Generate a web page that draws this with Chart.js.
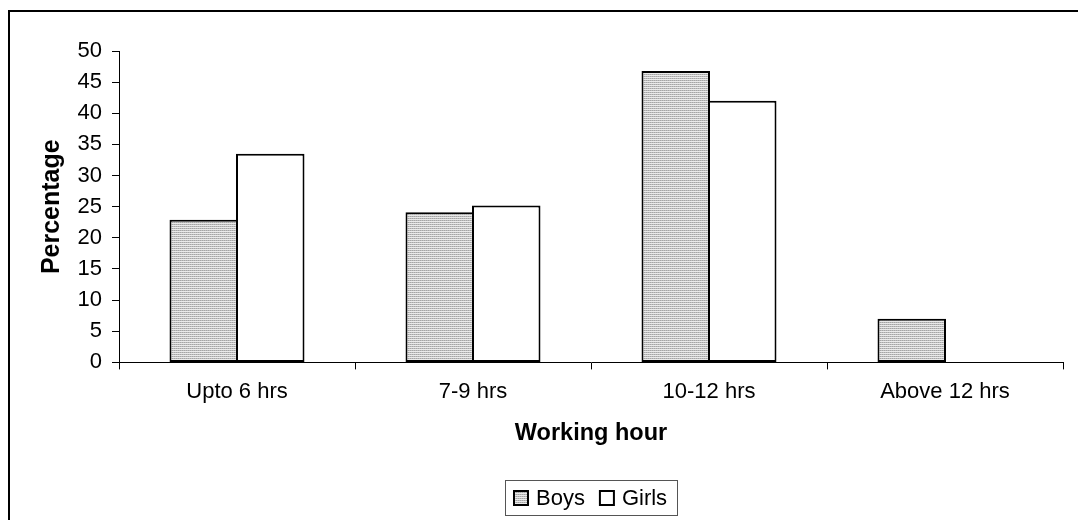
<!DOCTYPE html>
<html>
<head>
<meta charset="utf-8">
<script src="https://cdn.jsdelivr.net/npm/chart.js@4.4.0/dist/chart.umd.min.js"></script>
<style>
  html, body { margin: 0; padding: 0; background: #fff; overflow: hidden; }
  #wrap { width: 1078px; height: 520px; position: relative; }
</style>
</head>
<body>
<div id="wrap"><canvas id="chart" width="1078" height="520"></canvas></div>
<script>
// Share of working children by daily working hours
const categories = ['Upto 6 hrs', '7-9 hrs', '10-12 hrs', 'Above 12 hrs'];
const boysValues = [22.9, 24.1, 46.8, 7.0];
const girlsValues = [33.5, 25.2, 42.0, 0];
const yTickValues = [0, 5, 10, 15, 20, 25, 30, 35, 40, 45, 50];

const FONT = "'Liberation Sans', Arial, Helvetica, sans-serif";

// Fine horizontal hatching used for the Boys bars
function makeHatch() {
  const c = document.createElement('canvas');
  c.width = 4; c.height = 2;
  const g = c.getContext('2d');
  g.fillStyle = '#e9e9e9'; g.fillRect(0, 0, 4, 2);
  g.fillStyle = '#a4a4a4'; g.fillRect(0, 0, 4, 1);
  g.fillStyle = '#bdbdbd'; g.fillRect(1, 0, 1, 1); g.fillRect(3, 0, 1, 1);
  return g.createPattern(c, 'repeat');
}
const hatch = makeHatch();

// Page frame lines at the top and left
const framePlugin = {
  id: 'frame',
  beforeDraw(chart) {
    const ctx = chart.ctx;
    ctx.save();
    ctx.fillStyle = '#fff';
    ctx.fillRect(0, 0, chart.width, chart.height);
    ctx.fillStyle = '#000';
    ctx.fillRect(8, 10, 2, chart.height - 10);
    ctx.fillRect(8, 10, chart.width - 8, 2);
    ctx.restore();
  }
};

// Boxed legend centred under the plot area
const boxedLegend = {
  id: 'boxedLegend',
  afterDraw(chart) {
    const ctx = chart.ctx;
    const area = chart.chartArea;
    const fontSize = 22;
    ctx.save();
    ctx.font = fontSize + 'px ' + FONT;
    const sw = 16, gapText = 7, gapItem = 14, padL = 8, padR = 10;
    const items = chart.data.datasets.map(ds => ({
      label: ds.label, fill: ds.backgroundColor, w: ctx.measureText(ds.label).width
    }));
    let total = padL + padR;
    items.forEach((it, i) => { total += sw + gapText + it.w + (i ? gapItem : 0); });
    const cx = (area.left + area.right) / 2;
    const cy = area.bottom + 135.5;
    const left = Math.round(cx - total / 2);
    const boxTop = Math.round(cy - 17.5);
    ctx.strokeStyle = '#555';
    ctx.lineWidth = 1;
    ctx.strokeRect(left + 0.5, boxTop + 0.5, Math.round(total), 35);
    let x = left + padL;
    items.forEach((it, i) => {
      if (i) x += gapItem;
      const sy = Math.round(cy - sw / 2);
      ctx.fillStyle = '#000';
      ctx.fillRect(x, sy, sw, sw);
      ctx.fillStyle = it.fill;
      ctx.fillRect(x + 2, sy + 2, sw - 4, sw - 4);
      x += sw + gapText;
      ctx.fillStyle = '#000';
      ctx.textBaseline = 'middle';
      ctx.textAlign = 'left';
      ctx.fillText(it.label, x, cy + 1);
      x += it.w;
    });
    ctx.restore();
  }
};

new Chart(document.getElementById('chart'), {
  type: 'bar',
  data: {
    labels: categories,
    datasets: [
      { label: 'Boys', data: boysValues, backgroundColor: hatch, borderColor: '#000', borderWidth: 2, borderSkipped: false },
      { label: 'Girls', data: girlsValues, backgroundColor: '#ffffff', borderColor: '#000', borderWidth: 2, borderSkipped: false }
    ]
  },
  options: {
    responsive: false,
    animation: false,
    events: [],
    layout: { padding: { left: 33, top: 51, right: 15, bottom: 68 } },
    // neighbouring bars overlap by one border width so they share a single edge
    datasets: { bar: { categoryPercentage: 0.5636, barPercentage: 1.03 } },
    plugins: { legend: { display: false }, tooltip: { enabled: false } },
    scales: {
      x: {
        type: 'category',
        offset: true,
        grid: { display: true, offset: true, drawOnChartArea: false, drawTicks: true, tickLength: 7, color: '#000', lineWidth: 1 },
        border: { display: true, color: '#000', width: 1 },
        ticks: { color: '#000', padding: 9, maxRotation: 0, font: { family: FONT, size: 22 } },
        title: { display: true, text: 'Working hour', color: '#000', padding: { top: 6, bottom: 4 }, font: { family: FONT, size: 23.5, weight: 'bold' } }
      },
      y: {
        min: 0,
        max: 50,
        afterFit(scale) { scale.width = 86; },
        afterBuildTicks(scale) { scale.ticks = yTickValues.map(v => ({ value: v })); },
        grid: { display: true, drawOnChartArea: false, drawTicks: true, tickLength: 7, color: '#000', lineWidth: 1 },
        border: { display: true, color: '#000', width: 1 },
        ticks: { color: '#000', padding: 10, font: { family: FONT, size: 22 } },
        title: { display: true, text: 'Percentage', color: '#000', padding: { top: 4, bottom: 4 }, font: { family: FONT, size: 25, weight: 'bold' } }
      }
    }
  },
  plugins: [framePlugin, boxedLegend]
});
</script>
</body>
</html>
